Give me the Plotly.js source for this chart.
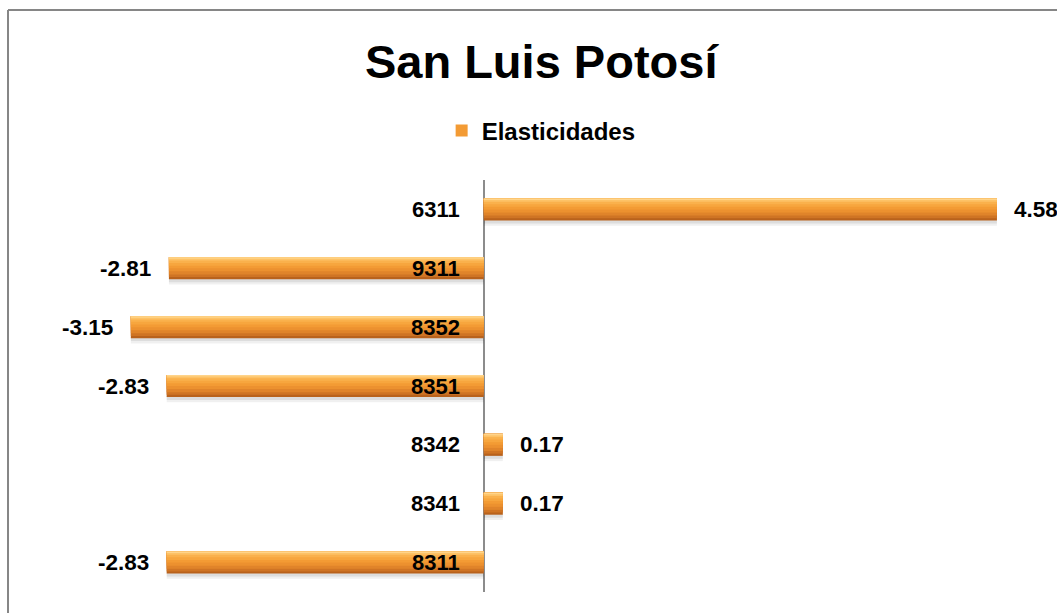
<!DOCTYPE html>
<html>
<head>
<meta charset="utf-8">
<script src="https://cdn.plot.ly/plotly-3.0.1.min.js"></script>
<style>
  html, body { margin: 0; padding: 0; background: #ffffff; }
  #chart { width: 1057px; height: 613px; }
</style>
</head>
<body>
<div id="chart"></div>
<script>
// Categories listed bottom to top (Plotly draws horizontal bars upward)
const categories = ["8311", "8341", "8342", "8351", "8352", "9311", "6311"];
const elasticidades = [-2.83, 0.17, 0.17, -2.83, -3.15, -2.81, 4.58];
const valueLabels = ["-2.83", "0.17", "0.17", "-2.83", "-3.15", "-2.81", "4.58"];
const seriesName = "Elasticidades";
const chartTitle = "San Luis Potosí";

const FONT = "Liberation Sans, Arial, Helvetica, sans-serif";
const BW = 0.374; // bar thickness in category units

function layer(color, offset, width, showlegend, name) {
  return {
    type: "bar",
    orientation: "h",
    y: categories,
    x: elasticidades,
    name: name || seriesName,
    showlegend: !!showlegend,
    width: width,
    offset: offset,
    marker: { color: color, line: { width: 0 } },
    hoverinfo: "skip"
  };
}

// shading bands: [fraction of bar (from top) covered, colour]; drawn largest first
const bands = [
  [1.00, "#B9621C"],
  [0.90, "#CF7424"],
  [0.78, "#E0842A"],
  [0.64, "#EC912F"],
  [0.50, "#F39B34"],
  [0.38, "#F7A63E"],
  [0.26, "#FAB14C"],
  [0.15, "#FDC266"],
  [0.07, "#FFD48A"]
];

const traces = [
  layer("rgba(0,0,0,0.06)", -BW / 2 - 0.09, 0.11, false, "shadow2"),
  layer("rgba(0,0,0,0.08)", -BW / 2 - 0.05, 0.07, false, "shadow1")
];
bands.forEach(([frac, col], k) => {
  const w = BW * frac;
  traces.push(layer(col, BW / 2 - w, w, k === 4, k === 4 ? seriesName : "band" + k));
});

const annotations = [];
categories.forEach((c, i) => {
  annotations.push({
    x: 0, y: i, xref: "x", yref: "y",
    text: c, showarrow: false,
    xanchor: "right", yanchor: "middle", xshift: -22,
    font: { family: FONT, size: 22, color: "#000000", weight: "bold" }
  });
  const v = elasticidades[i];
  annotations.push({
    x: v, y: i, xref: "x", yref: "y",
    text: valueLabels[i], showarrow: false,
    xanchor: v >= 0 ? "left" : "right", yanchor: "middle",
    xshift: v >= 0 ? 15 : -16,
    font: { family: FONT, size: 22.5, color: "#000000", weight: "bold" }
  });
});

const layout = {
  width: 1057,
  height: 613,
  margin: { l: 58, r: 13, t: 180, b: 21 },
  paper_bgcolor: "#ffffff",
  plot_bgcolor: "#ffffff",
  barmode: "overlay",
  title: {
    text: chartTitle,
    font: { family: FONT, size: 47, color: "#000000", weight: "bold" },
    x: 0.512, xref: "container", xanchor: "center",
    y: 0.9, yref: "container", yanchor: "middle"
  },
  showlegend: true,
  legend: {
    orientation: "h",
    x: 0.49, xanchor: "center",
    y: 1.119, yanchor: "middle",
    font: { family: FONT, size: 24, color: "#000000", weight: "bold" },
    itemwidth: 30,
    bgcolor: "rgba(0,0,0,0)"
  },
  xaxis: {
    range: [-3.8, 5.0],
    autorange: false,
    showgrid: false,
    showticklabels: false,
    ticks: "",
    showline: false,
    zeroline: true,
    zerolinecolor: "#8C8C8C",
    zerolinewidth: 1.5,
    fixedrange: true
  },
  yaxis: {
    type: "category",
    range: [-0.5, 6.5],
    autorange: false,
    showgrid: false,
    showticklabels: false,
    ticks: "",
    showline: false,
    zeroline: false,
    fixedrange: true
  },
  annotations: annotations,
  shapes: [
    {
      type: "line", xref: "paper", yref: "paper",
      x0: -0.0507, x1: -0.0507, y0: 1.4126, y1: -0.06,
      line: { color: "#868686", width: 2 }
    },
    {
      type: "line", xref: "paper", yref: "paper",
      x0: -0.0507, x1: 1.02, y0: 1.4126, y1: 1.4126,
      line: { color: "#868686", width: 2 }
    }
  ]
};

Plotly.newPlot("chart", traces, layout, { displayModeBar: false, staticPlot: true });
</script>
</body>
</html>
